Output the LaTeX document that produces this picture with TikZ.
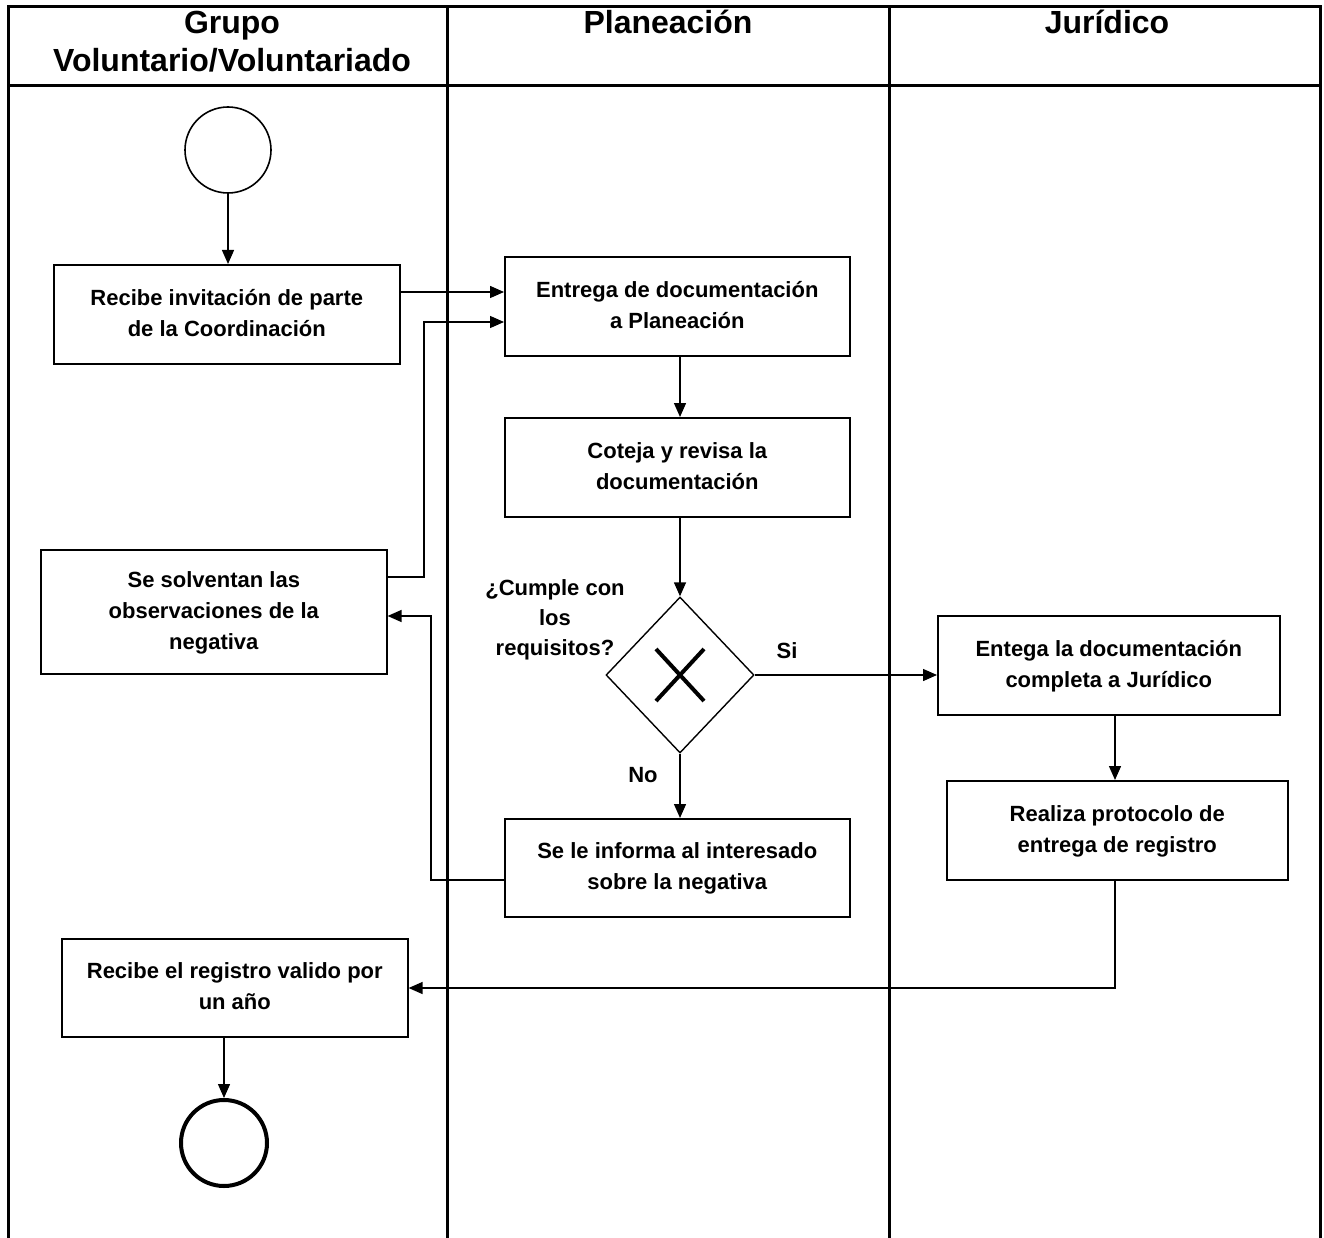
\documentclass[tikz,border=0pt]{standalone}
\usepackage{fontspec}
\setmainfont{Liberation Sans}
\usetikzlibrary{shapes.geometric,arrows.meta,calc}
\begin{document}
\begin{tikzpicture}[x=1pt,y=-1pt,
  lane/.style={line width=3pt},
  task/.style={draw,line width=1.6pt,minimum width=346pt,minimum height=99pt,inner sep=0pt,anchor=north west,align=center,font=\fontsize{22}{32}\selectfont\bfseries},
  hdr/.style={font=\fontsize{32}{38}\selectfont\bfseries,align=center},
  lbl/.style={font=\fontsize{22}{30}\selectfont\bfseries,align=center},
  flow/.style={line width=1.4pt,-{Triangle[length=14pt,width=12pt]}}]
\useasboundingbox (0,0) rectangle (1324,1238);
% frame and lanes
\draw[lane] (8,1238) -- (8,7) -- (1320,7) -- (1320,1238);
\draw[lane] (8,86) -- (1320,86);
\draw[lane] (447,7) -- (447,1238);
\draw[lane] (889,7) -- (889,1238);
\node[hdr] (h1) at (232,42) {Grupo\\Voluntario/Voluntariado};
\node[hdr] (h2) at (668,22) {Planeación};
\node[hdr] (h3) at (1107,22) {Jurídico};
% nodes
\node[draw,circle,line width=1.6pt,minimum size=86pt,inner sep=0pt] (start) at (228,150) {};
\node[task,minimum width=346pt] (b1) at (53,264) {\raisebox{16pt}{\begin{tabular}{c}Recibe invitación de parte\\[-1pt]de la Coordinación\end{tabular}}};
\node[task,minimum width=345pt] (b2) at (504,256) {\raisebox{16pt}{\begin{tabular}{c}Entrega de documentación\\[-1pt]a Planeación\end{tabular}}};
\node[task,minimum width=345pt] (b3) at (504,417) {\raisebox{16pt}{\begin{tabular}{c}Coteja y revisa la\\[-1pt]documentación\end{tabular}}};
\node[task,minimum width=346pt,minimum height=124pt] (b4) at (40,549) {\raisebox{20pt}{\begin{tabular}{c}Se solventan las\\[-1pt]observaciones de la\\[-1pt]negativa\end{tabular}}};
\node[draw,diamond,line width=1.4pt,minimum width=148pt,minimum height=156pt,inner sep=0pt] (gw) at (680,675) {};
\draw[line width=4pt] ($(gw)+(-24,-26)$) -- ($(gw)+(24,26)$);
\draw[line width=4pt] ($(gw)+(-24,26)$) -- ($(gw)+(24,-26)$);
\node[task,minimum width=342pt] (b5) at (937,615) {\raisebox{16pt}{\begin{tabular}{c}Entega la documentación\\[-1pt]completa a Jurídico\end{tabular}}};
\node[task,minimum width=341pt] (b6) at (946,780) {\raisebox{16pt}{\begin{tabular}{c}Realiza protocolo de\\[-1pt]entrega de registro\end{tabular}}};
\node[task,minimum width=345pt,minimum height=98pt] (b7) at (504,818) {\raisebox{16pt}{\begin{tabular}{c}Se le informa al interesado\\[-1pt]sobre la negativa\end{tabular}}};
\node[task,minimum width=346pt,minimum height=98pt] (b8) at (61,938) {\raisebox{16pt}{\begin{tabular}{c}Recibe el registro valido por\\[-1pt]un año\end{tabular}}};
\node[draw,circle,line width=4pt,minimum size=86pt,inner sep=0pt] (end) at (224,1143) {};
\node[lbl] (q) at (555,620) {¿Cumple con\\los\\requisitos?};
\node[lbl] (si) at (787,651) {Si};
\node[lbl] (no) at (643,775) {No};
% connectors
\draw[flow] (start.south) -- (start.south |- b1.north);
\draw[flow] ([yshift=-28pt]b1.north east) -- ([yshift=-36pt]b2.north west);
\draw[flow] ([yshift=-28pt]b4.north east) -- (424,577) -- (424,322) -- ([yshift=-66pt]b2.north west);
\draw[flow] (b2.south -| gw.north) -- (b3.north -| gw.north);
\draw[flow] (b3.south -| gw.north) -- (gw.north);
\draw[flow] (gw.east) -- (gw.east -| b5.west);
\draw[flow] (gw.south) -- (b7.north -| gw.south);
\draw[flow] ([yshift=-62pt]b7.north west) -- (431,880) -- (431,616) -- ([yshift=-67pt]b4.north east);
\coordinate (c5) at (1115,714);
\coordinate (c6) at (1115,780);
\coordinate (c7) at (1115,879);
\draw[flow] (c5) -- (c6);
\draw[flow] (c7) -- (1115,988) -- ([yshift=-50pt]b8.north east);
\draw[flow] (b8.south -| end.north) -- (end.north);
\end{tikzpicture}
\end{document}
